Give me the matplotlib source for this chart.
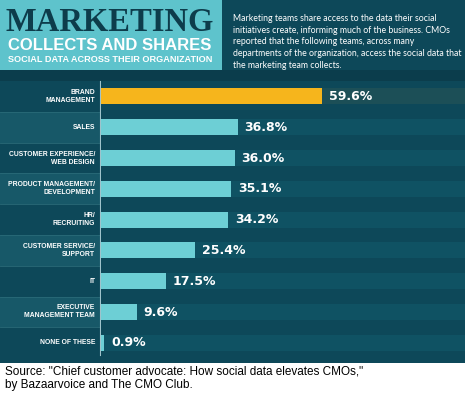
import matplotlib
matplotlib.use("Agg")
import matplotlib.pyplot as plt
from matplotlib.patches import Rectangle

categories = ["BRAND\nMANAGEMENT", "SALES", "CUSTOMER EXPERIENCE/\nWEB DESIGN",
              "PRODUCT MANAGEMENT/\nDEVELOPMENT", "HR/\nRECRUITING",
              "CUSTOMER SERVICE/\nSUPPORT", "IT", "EXECUTIVE\nMANAGEMENT TEAM",
              "NONE OF THESE"]
values = [59.6, 36.8, 36.0, 35.1, 34.2, 25.4, 17.5, 9.6, 0.9]
highlight_index = 0

title_main = "MARKETING"
title_sub1 = "COLLECTS AND SHARES"
title_sub2 = "SOCIAL DATA ACROSS THEIR ORGANIZATION"
description = ("Marketing teams share access to the data their social\n"
               "initiatives create, informing much of the business. CMOs\n"
               "reported that the following teams, across many\n"
               "departments of the organization, access the social data that\n"
               "the marketing team collects.")
source_lines = ["Source: \"Chief customer advocate: How social data elevates CMOs,\"",
                "by Bazaarvoice and The CMO Club."]

BG = "#0d4859"
BG_DARK = "#0b3d4c"
BAND = "#0f5263"
LABEL_LIGHT = "#175868"
TITLE_BOX = "#5ec3cc"
TITLE_DARK = "#0d3c4b"
BAR = "#6dcfd5"
GOLD = "#f6b51c"

NARROW = ["Liberation Sans", "DejaVu Sans"]

W, H = 465, 399
fig = plt.figure(figsize=(W / 100, H / 100), dpi=100)
fig.patch.set_facecolor("white")

bg = fig.add_axes([0, 0, 1, 1])
bg.set_xlim(0, W)
bg.set_ylim(H, 0)
bg.axis("off")
bg.add_patch(Rectangle((0, 0), W, 363, color=BG, lw=0))
bg.add_patch(Rectangle((0, 70), W, 11, color=BG_DARK, lw=0))
bg.add_patch(Rectangle((0, 0), 222, 70, color=TITLE_BOX, lw=0))

bg.text(110, 22.5, title_main, ha="center", va="center", color=TITLE_DARK,
        fontsize=23.5, fontweight="bold", family="Liberation Serif")
bg.text(110, 45.5, title_sub1, ha="center", va="center", color="white",
        fontsize=12.0, fontweight="bold", family=NARROW)
bg.text(110, 60, title_sub2, ha="center", va="center", color="white",
        fontsize=6.6, fontweight="bold", family=NARROW)
bg.text(233, 42, description, ha="left", va="center", color="white",
        fontsize=6.3, family="Lato", linespacing=1.4)
bg.text(5, 372, source_lines[0], ha="left", va="center", color="black",
        fontsize=8.5, family="Liberation Sans")
bg.text(5, 385, source_lines[1], ha="left", va="center", color="black",
        fontsize=8.5, family="Liberation Sans")

top, bottom = 81, 358.2
left_px = 101
ax = fig.add_axes([left_px / W, 1 - bottom / H, (W - left_px) / W, (bottom - top) / H])
ax.set_facecolor(BG)
px_per_unit = 3.71
ax.set_xlim(0, (W - left_px) / px_per_unit)
n = len(values)
ax.set_ylim(n - 0.5, -0.5)
for s in ax.spines.values():
    s.set_visible(False)
ax.set_xticks([])
ax.set_yticks([])

bar_h = 0.52
for i, v in enumerate(values):
    ax.axhspan(i - bar_h / 2, i + bar_h / 2,
               color=BAND if i != highlight_index else "#1c4f57", lw=0, zorder=0)
colors = [GOLD if i == highlight_index else BAR for i in range(n)]
ax.barh(range(n), values, height=bar_h, color=colors, zorder=2)
for i, v in enumerate(values):
    ax.text(v + 1.9, i, f"{v:.1f}%", ha="left", va="center", color="white",
            fontsize=9, fontweight="bold", family="DejaVu Sans", zorder=3)

row_h = (bottom - top) / n
for i, c in enumerate(categories):
    y0 = top + i * row_h
    bg.add_patch(Rectangle((0, y0), 100, row_h, color=LABEL_LIGHT if i % 2 else BG, lw=0))
    if i > 0:
        bg.plot([0, 100], [y0, y0], color="#2a6a78", lw=0.6)
    bg.text(95, y0 + row_h / 2, c, ha="right", va="center", color="white",
            fontsize=4.9, fontweight="bold", family=NARROW, linespacing=1.2)
bg.plot([100, 100], [81, 355], color="#9fc3cb", lw=0.8)

fig.savefig("out.png", dpi=100, facecolor=fig.get_facecolor())
